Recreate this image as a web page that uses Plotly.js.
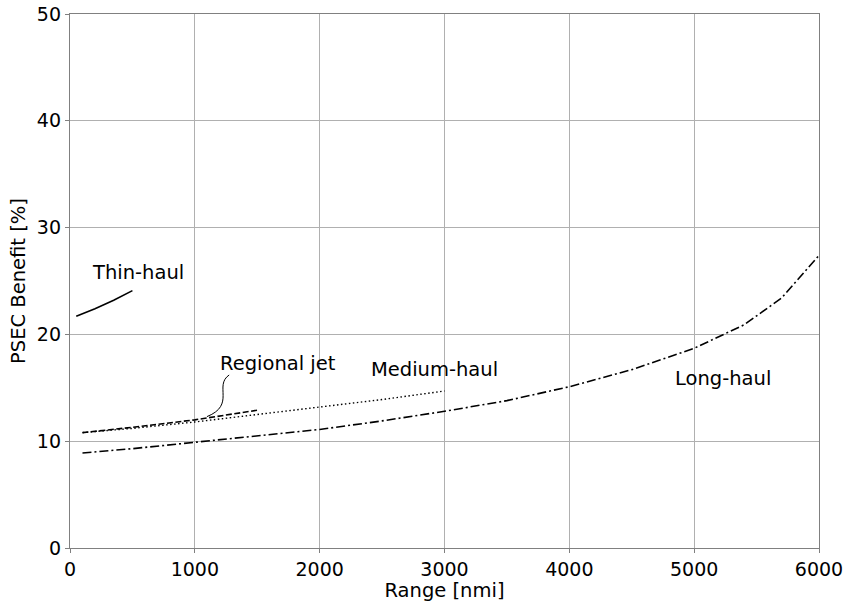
<!DOCTYPE html>
<html>
<head>
<meta charset="utf-8">
<script src="https://cdn.plot.ly/plotly-3.0.1.min.js"></script>
<style>html,body{margin:0;padding:0;background:#fff;}#chart{width:847px;height:602px;}</style>
</head>
<body>
<div id="chart"></div>
<script>
// PSEC benefit versus range for each aircraft class
const thinRange = [50, 200, 350, 500];
const thinBenefit = [21.7, 22.4, 23.2, 24.1];

const regionalRange = [100, 500, 1000, 1500];
const regionalBenefit = [10.8, 11.3, 12.0, 12.9];

const mediumRange = [100, 500, 1000, 1500, 2000, 2500, 3000];
const mediumBenefit = [10.8, 11.2, 11.8, 12.5, 13.2, 13.9, 14.7];

const longRange = [100, 500, 1000, 1500, 2000, 2500, 3000, 3500, 4000, 4500, 5000, 5400, 5700, 6000];
const longBenefit = [8.9, 9.3, 9.9, 10.5, 11.1, 11.9, 12.8, 13.8, 15.1, 16.7, 18.7, 20.9, 23.4, 27.4];

const xTicks = [0, 1000, 2000, 3000, 4000, 5000, 6000];
const yTicks = [0, 10, 20, 30, 40, 50];

const family = 'DejaVu Sans, sans-serif';
const tickFont = {family: family, size: 19, color: '#000'};
const titleFont = {family: family, size: 19.5, color: '#000'};
const labelFont = {family: family, size: 19.5, color: '#000'};

const traces = [
  {x: thinRange, y: thinBenefit, mode: 'lines', line: {color: '#000', width: 1.6}},
  {x: regionalRange, y: regionalBenefit, mode: 'lines', line: {color: '#000', width: 1.6, dash: '6px,2.5px'}},
  {x: mediumRange, y: mediumBenefit, mode: 'lines', line: {color: '#000', width: 1.4, dash: '1.5px,2.5px'}},
  {x: longRange, y: longBenefit, mode: 'lines', line: {color: '#000', width: 1.6, dash: '9px,3px,2px,3px'}}
];

const axisCommon = {
  showgrid: true, gridcolor: '#b0b0b0', gridwidth: 1,
  showline: true, linecolor: '#808080', linewidth: 1.2, mirror: true,
  ticks: 'outside', ticklen: 4, tickcolor: '#808080',
  zeroline: false, tickfont: tickFont
};

const layout = {
  width: 847, height: 602,
  margin: {l: 70, r: 28, t: 14, b: 54},
  paper_bgcolor: '#fff', plot_bgcolor: '#fff',
  showlegend: false,
  font: tickFont,
  xaxis: Object.assign({}, axisCommon, {
    range: [0, 6000], tickvals: xTicks, ticktext: xTicks.map(String),
    title: {text: 'Range [nmi]', font: titleFont, standoff: 2}
  }),
  yaxis: Object.assign({}, axisCommon, {
    range: [0, 50], tickvals: yTicks, ticktext: yTicks.map(String),
    title: {text: 'PSEC Benefit [%]', font: titleFont, standoff: 6}
  }),
  annotations: [
    {x: 545, y: 25.8, text: 'Thin-haul', showarrow: false, font: labelFont},
    {x: 1665, y: 17.3, text: 'Regional jet', showarrow: false, font: labelFont},
    {x: 2916, y: 16.7, text: 'Medium-haul', showarrow: false, font: labelFont},
    {x: 5231, y: 15.9, text: 'Long-haul', showarrow: false, font: labelFont}
  ],
  shapes: [
    {type: 'path', xref: 'x', yref: 'y',
     path: 'M 1275 16.2 C 1150 15.2, 1330 13.4, 1097 12.3',
     line: {color: '#000', width: 1}}
  ]
};

Plotly.newPlot('chart', traces, layout, {displayModeBar: false, staticPlot: true});
</script>
</body>
</html>
